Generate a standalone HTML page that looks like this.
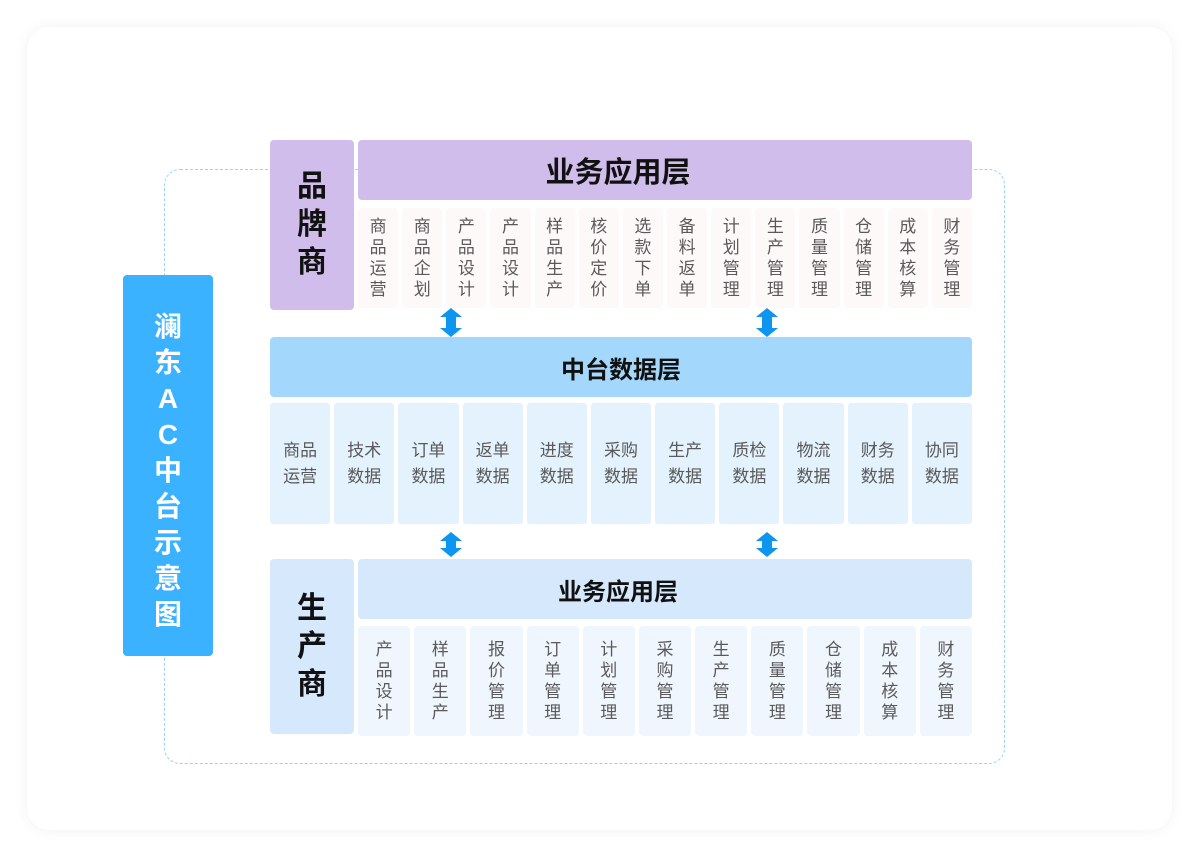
<!DOCTYPE html>
<html><head><meta charset="utf-8"><style>
*{margin:0;padding:0;box-sizing:border-box}
body{width:1199px;height:859px;background:#fff;position:relative;overflow:hidden;font-family:"Liberation Sans","Noto Sans CJK SC",sans-serif}
.a{position:absolute}
.card{left:27px;top:27px;width:1145px;height:803px;border-radius:22px;background:#fff;box-shadow:0 0 14px rgba(0,0,0,0.06)}
.dash{left:164px;top:169px;width:841px;height:595px;border:1px dashed #9fd0f2;border-radius:16px}
.side{left:123px;top:275px;width:90px;height:381px;background:#3bb2ff;border-radius:4px;color:#fff;font-weight:bold;font-size:28px;text-align:center;line-height:36px;padding-top:34px}
.hd{display:flex;align-items:center;justify-content:center;font-weight:bold;color:#111;border-radius:4px}
.vt{display:flex;align-items:center;justify-content:center;text-align:center;border-radius:4px;color:#5a5a5a;font-size:17px;line-height:21px}
.big{font-size:30px;line-height:38px;font-weight:bold;color:#111;text-align:center;border-radius:4px;display:flex;align-items:center;justify-content:center}
.dc{display:flex;align-items:center;justify-content:center;text-align:center;background:#e3f2fd;color:#5a5a5a;font-size:17px;line-height:26px;border-radius:3px}
</style></head><body>
<div class="a card"></div>
<div class="a dash"></div>
<div class="a side">澜<br>东<br>A<br>C<br>中<br>台<br>示<br>意<br>图</div>

<div class="a big" style="left:270px;top:140px;width:84px;height:170px;background:#d1bdeb">品<br>牌<br>商</div>
<div class="a hd" style="left:358px;top:140px;width:614px;height:60px;background:#d1bdeb;font-size:29px;padding-right:94px">业务应用层</div>
<div id="r1"></div>

<div class="a hd" style="left:270px;top:337px;width:702px;height:60px;background:#a3d8fc;font-size:24px">中台数据层</div>
<div id="r2"></div>

<div class="a big" style="left:270px;top:559px;width:84px;height:175px;background:#d6e8fc">生<br>产<br>商</div>
<div class="a hd" style="left:358px;top:559px;width:614px;height:60px;background:#d6e8fc;font-size:24px;padding-right:94px">业务应用层</div>
<div id="r3"></div>

<svg class="a" style="left:0;top:0" width="1199" height="859">
<g fill="#0d95ef">
<path d="M451 308 l11 9 h-6 v11 h6 l-11 9 l-11 -9 h6 v-11 h-6z"/>
<path d="M767 308 l11 9 h-6 v11 h6 l-11 9 l-11 -9 h6 v-11 h-6z"/>
<path d="M451 532 l11 9 h-6 v7 h6 l-11 9 l-11 -9 h6 v-7 h-6z"/>
<path d="M767 532 l11 9 h-6 v7 h6 l-11 9 l-11 -9 h6 v-7 h-6z"/>
</g></svg>
<script>
function row(id,items,x0,x1,y,h,gap,bg,cls){
 var n=items.length,w=(x1-x0-gap*(n-1))/n,s='';
 items.forEach(function(t,i){
  var txt=cls=='dc'?t.slice(0,2)+'<br>'+t.slice(2):t.split('').join('<br>');
  s+='<div class="a '+cls+'" style="left:'+(x0+i*(w+gap))+'px;top:'+y+'px;width:'+w+'px;height:'+h+'px;'+(bg?'background:'+bg:'')+'">'+'<div>'+txt+'</div></div>';
 });
 document.getElementById(id).outerHTML=s;
}
row('r1',['商品运营','商品企划','产品设计','产品设计','样品生产','核价定价','选款下单','备料返单','计划管理','生产管理','质量管理','仓储管理','成本核算','财务管理'],358,972,208,100,4,'#fdf9f9','vt');
row('r2',['商品运营','技术数据','订单数据','返单数据','进度数据','采购数据','生产数据','质检数据','物流数据','财务数据','协同数据'],270,972,403,121,4,'','dc');
row('r3',['产品设计','样品生产','报价管理','订单管理','计划管理','采购管理','生产管理','质量管理','仓储管理','成本核算','财务管理'],358,972,626,110,4,'#eff6fe','vt');
</script>
</body></html>
